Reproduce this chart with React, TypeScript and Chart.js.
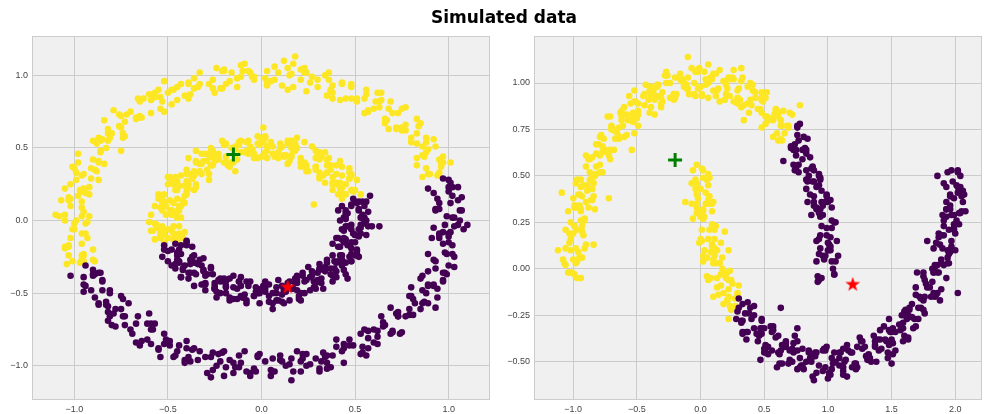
import React, { useEffect, useRef } from "react";
import { Chart, registerables } from "chart.js";
Chart.register(...registerables);

type P = [number, number];

// ---- Left panel: concentric circles ----
const circlesOuterYellow: P[] = [
  [0.88,0.36],[1.01,0.40],[0.89,0.49],[0.96,0.39],[0.83,0.38],[0.93,0.51],[0.83,0.43],[0.88,0.54],
  [0.75,0.62],[0.84,0.65],[0.86,0.51],[0.77,0.62],[0.85,0.67],[0.72,0.64],[0.68,0.63],[0.77,0.78],[0.70,0.74],
  [0.69,0.82],[0.57,0.75],[0.66,0.70],[0.60,0.77],[0.51,0.84],[0.64,0.88],[0.48,0.94],[0.55,0.84],[0.42,0.83],
  [0.48,0.92],[0.38,0.84],[0.43,0.95],[0.27,0.99],[0.36,1.02],[0.38,0.88],[0.26,0.95],[0.34,1.00],[0.21,0.97],
  [0.14,0.90],[0.23,1.05],[0.16,1.01],[0.14,1.05],[0.02,0.98],[0.11,0.93],[0.03,0.95],[-0.06,1.02],[0.07,1.06],
  [-0.11,1.07],[-0.04,0.97],[-0.17,0.96],[-0.11,0.99],[-0.21,0.91],[-0.16,1.02],[-0.33,1.02],[-0.24,1.05],[-0.22,0.91],
  [-0.34,0.92],[-0.26,0.97],[-0.39,0.94],[-0.45,0.83],[-0.36,0.98],[-0.43,0.94],[-0.45,0.92],[-0.57,0.85],[-0.48,0.80],
  [-0.54,0.77],[-0.63,0.84],[-0.50,0.88],[-0.66,0.84],[-0.59,0.74],[-0.72,0.73],[-0.65,0.72],[-0.75,0.64],[-0.70,0.75],
  [-0.84,0.69],[-0.75,0.72],[-0.73,0.58],[-0.82,0.55],[-0.74,0.60],[-0.87,0.57],[-0.90,0.42],[-0.81,0.57],[-0.88,0.53],
  [-0.86,0.47],[-0.98,0.40],[-0.89,0.35],[-0.91,0.29],[-1.00,0.36],[-0.87,0.40],[-0.99,0.33],[-0.92,0.23],[-1.05,0.22],
  [-0.92,0.18],[-1.02,0.10],[-0.97,0.21],[-1.07,0.14],[-0.98,0.17],[-0.96,0.03],[-1.00,-0.02],[-0.92,0.03],[-1.05,0.00],
  [-1.03,-0.17],[-0.94,-0.02],[-1.01,-0.06],[-0.93,-0.12],[-1.05,-0.19],[-0.96,-0.24],[-1.03,-0.24],[-0.90,-0.20],
  [-1.10,0.04],[-0.95,-0.28],[-0.90,-0.27],[-0.96,-0.27],[0.95,0.33],[0.18,1.13],[0.12,1.10],
  [0.97,0.40],[0.89,0.32],[0.83,0.53],[0.97,0.44],[0.83,0.60],[0.86,0.45],[0.75,0.64],[0.83,0.70],[0.66,0.67],[0.77,0.66],
  [0.63,0.82],[0.75,0.77],[0.55,0.74],[0.64,0.83],[0.63,0.78],[0.56,0.90],[0.37,0.89],[0.51,0.82],[0.43,0.94],[0.35,0.86],
  [0.24,1.02],[0.38,0.93],[0.21,1.04],[0.24,0.89],[0.09,1.02],[0.17,1.08],[-0.04,0.99],[0.05,0.96],[-0.09,1.08],[0.03,1.03],
  [-0.19,0.94],[-0.10,1.03],[-0.13,0.92],[-0.20,1.04],[-0.39,0.95],[-0.25,0.88],[-0.33,0.94],[-0.41,0.86],[-0.52,0.96],[-0.38,0.87],
  [-0.55,0.90],[-0.52,0.75],[-0.65,0.82],[-0.57,0.88],[-0.76,0.73],[-0.67,0.70],[-0.79,0.76],[-0.67,0.71],[-0.85,0.56],[-0.76,0.65],
  [-0.75,0.48],[-0.82,0.60],[-0.98,0.46],[-0.84,0.39],[-0.87,0.41],[-0.95,0.32],[-1.01,0.37],[-0.87,0.28],[-0.99,0.28],[-0.96,0.13],
  [-1.03,0.16],[-0.95,0.22],[-1.08,0.03],[-0.99,0.00],[-1.05,0.04],[-0.93,-0.01],[-1.05,-0.18],[-0.96,-0.09],[-0.89,-0.28],[-0.96,-0.16],
  [-1.04,-0.30],[0.86,0.30],
  [0.96,0.37],[0.90,0.32],[0.88,0.47],[0.95,0.42],[0.87,0.44],[0.92,0.56],[0.88,0.57],[0.80,0.54],[0.72,0.63],[0.80,0.57],
  [0.73,0.74],[0.67,0.69],[0.61,0.82],[0.68,0.77],[0.57,0.76],[0.62,0.88],[0.56,0.87],[0.48,0.84],[0.37,0.90],[0.45,0.84],
  [0.36,0.97],[0.30,0.92],[0.23,1.02],[0.30,0.97],[0.17,0.92],[0.22,1.04],[0.15,1.00],[0.07,0.97],[-0.05,0.99],[0.03,0.93],
  [-0.07,1.03],[-0.13,0.98],[-0.20,1.03],[-0.13,0.98],[-0.26,0.91],[-0.21,1.03],[-0.28,0.94],[-0.36,0.91],[-0.47,0.90],[-0.39,0.84],
  [-0.48,0.90],[-0.54,0.85],[-0.60,0.87],[-0.53,0.82],[-0.64,0.71],[-0.59,0.83],[-0.65,0.71],[-0.73,0.68],[-0.82,0.63],[-0.74,0.57],
  [-0.80,0.60],[-0.86,0.55],[-0.90,0.55],[-0.83,0.50],[-0.91,0.36],[-0.86,0.48],[-0.88,0.34],[-0.96,0.31],[-1.02,0.25],[-0.94,0.19],
  [-0.96,0.20],[-1.02,0.15],[-1.03,0.14],[-0.96,0.09],[-1.00,-0.06],[-0.95,0.06],[-0.94,-0.09],[-1.02,-0.12],[-1.03,-0.18],[-0.95,-0.24],
  [-0.95,-0.23],[-1.01,-0.28],[-0.97,-0.29],[0.94,0.31],
];
const circlesOuterPurple: P[] = [
  [0.97,0.29],[-0.94,-0.31],[-0.89,-0.37],[-1.02,-0.38],[-0.85,-0.41],[-0.95,-0.49],[-0.90,-0.38],
  [-0.94,-0.45],[-0.85,-0.42],[-0.83,-0.56],[-0.82,-0.59],[-0.74,-0.54],[-0.87,-0.57],[-0.80,-0.72],[-0.71,-0.57],[-0.78,-0.61],
  [-0.66,-0.66],[-0.78,-0.73],[-0.69,-0.78],[-0.61,-0.82],[-0.70,-0.75],[-0.57,-0.71],[-0.59,-0.75],[-0.52,-0.85],[-0.65,-0.86],
  [-0.44,-0.86],[-0.54,-0.94],[-0.49,-0.83],[-0.49,-0.86],[-0.40,-0.83],[-0.38,-0.97],[-0.34,-0.96],[-0.26,-0.91],[-0.39,-0.94],
  [-0.29,-1.05],[-0.20,-0.90],[-0.27,-0.94],[-0.12,-0.93],[-0.24,-1.00],[-0.15,-1.05],[-0.06,-1.05],[-0.15,-0.98],[-0.02,-0.94],
  [-0.02,-0.93],[0.05,-1.03],[-0.08,-1.04],[0.15,-0.99],[0.05,-1.07],[0.10,-0.96],[0.10,-0.93],[0.19,-0.90],[0.21,-1.04],
  [0.26,-0.99],[0.34,-0.94],[0.21,-0.97],[0.31,-1.02],[0.40,-0.87],[0.33,-0.91],[0.47,-0.86],[0.35,-0.93],[0.44,-0.98],
  [0.53,-0.92],[0.44,-0.85],[0.57,-0.81],[0.55,-0.75],[0.62,-0.85],[0.49,-0.86],[0.70,-0.76],[0.60,-0.84],[0.65,-0.73],
  [0.64,-0.66],[0.73,-0.63],[0.75,-0.77],[0.77,-0.66],[0.85,-0.61],[0.72,-0.64],[0.79,-0.65],[0.88,-0.50],[0.81,-0.54],
  [0.92,-0.45],[0.80,-0.52],[0.89,-0.57],[0.94,-0.47],[0.85,-0.40],[0.98,-0.36],[0.92,-0.27],[0.99,-0.37],[0.86,-0.38],
  [1.03,-0.25],[0.93,-0.33],[0.98,-0.22],[0.91,-0.12],[1.00,-0.09],[1.02,-0.23],[1.00,-0.11],[1.08,-0.06],[0.95,-0.09],
  [0.97,-0.08],[1.06,0.07],[0.99,0.03],[1.05,0.14],[0.93,0.07],[1.02,0.02],[1.01,0.12],[0.92,0.19],[1.05,0.23],
  [1.02,0.23],[0.89,0.22],[-0.60,-0.64],[1.10,-0.03],[0.16,-1.10],[-0.27,-1.08],
  [-0.90,-0.37],[-0.87,-0.36],[-0.95,-0.44],[-0.95,-0.39],[-0.81,-0.48],[-0.85,-0.48],[-0.82,-0.63],[-0.83,-0.58],[-0.75,-0.52],
  [-0.82,-0.69],[-0.73,-0.72],[-0.73,-0.66],[-0.61,-0.71],[-0.67,-0.84],[-0.58,-0.75],[-0.45,-0.90],[-0.52,-0.78],[-0.55,-0.89],
  [-0.41,-0.96],[-0.33,-0.90],[-0.41,-0.98],[-0.36,-0.88],[-0.22,-0.97],[-0.23,-0.92],[-0.20,-1.07],[-0.17,-0.96],[-0.09,-0.90],
  [-0.12,-1.01],[-0.03,-1.04],[-0.01,-0.92],[0.11,-0.97],[0.07,-1.04],[0.16,-0.95],[0.31,-1.04],[0.24,-0.92],[0.22,-0.95],
  [0.35,-1.02],[0.43,-0.90],[0.35,-0.98],[0.40,-0.82],[0.54,-0.91],[0.53,-0.78],[0.56,-0.93],[0.57,-0.76],[0.65,-0.70],
  [0.60,-0.75],[0.69,-0.78],[0.69,-0.60],[0.81,-0.65],[0.73,-0.66],[0.82,-0.57],[0.93,-0.60],[0.86,-0.48],[0.80,-0.46],
  [0.94,-0.53],[0.97,-0.36],[0.89,-0.44],[0.89,-0.23],[1.03,-0.32],[0.97,-0.16],[1.00,-0.31],[0.95,-0.10],[1.03,-0.04],
  [0.92,-0.05],[1.01,-0.08],[0.95,0.12],[1.07,0.07],[0.93,0.08],[1.02,0.17],[1.07,0.16],[1.00,0.28],[1.00,0.23],
  [-0.90,-0.34],[-0.91,-0.48],[-0.86,-0.36],[-0.81,-0.50],[-0.89,-0.53],[-0.87,-0.58],[-0.79,-0.64],[-0.75,-0.61],[-0.81,-0.66],
  [-0.74,-0.66],[-0.67,-0.71],[-0.64,-0.83],[-0.59,-0.71],[-0.51,-0.82],[-0.59,-0.85],[-0.55,-0.88],[-0.47,-0.94],[-0.40,-0.88],
  [-0.46,-0.93],[-0.37,-0.89],[-0.30,-0.94],[-0.26,-1.03],[-0.21,-0.91],[-0.11,-0.98],[-0.19,-1.01],[-0.14,-1.01],[-0.06,-1.07],
  [0.02,-0.97],[-0.04,-1.02],[0.06,-0.95],[0.13,-1.00],[0.17,-1.04],[0.22,-0.92],[0.32,-0.97],[0.24,-1.00],[0.29,-0.95],
  [0.37,-1.01],[0.44,-0.88],[0.38,-0.93],[0.47,-0.82],[0.54,-0.87],[0.57,-0.88],[0.62,-0.76],[0.70,-0.77],[0.62,-0.80],
  [0.66,-0.72],[0.74,-0.78],[0.79,-0.61],[0.73,-0.66],[0.79,-0.52],[0.86,-0.57],[0.87,-0.56],[0.92,-0.44],[0.97,-0.42],
  [0.89,-0.45],[0.89,-0.35],[0.97,-0.41],[0.99,-0.23],[0.93,-0.28],[0.95,-0.12],[1.02,-0.17],[1.00,-0.15],[1.05,-0.03],
  [1.06,0.00],[0.98,-0.03],[0.95,0.08],[1.03,0.02],[1.00,0.20],[0.94,0.15],[1.01,0.26],
];
const circlesInnerYellow: P[] = [
  [0.53,0.18],[0.48,0.21],[0.38,0.26],[0.47,0.29],[0.43,0.23],[0.51,0.28],[0.38,0.25],[0.38,0.21],[0.47,0.36],[0.40,0.32],
  [0.43,0.37],[0.31,0.30],[0.40,0.25],[0.38,0.30],[0.29,0.37],[0.42,0.41],[0.30,0.45],[0.37,0.35],[0.24,0.34],
  [0.35,0.42],[0.25,0.34],[0.31,0.47],[0.18,0.48],[0.27,0.51],[0.29,0.37],[0.21,0.43],[0.29,0.48],[0.16,0.45],
  [0.14,0.39],[0.23,0.54],[0.16,0.50],[0.18,0.53],[0.06,0.46],[0.15,0.41],[0.12,0.44],[0.03,0.51],[0.16,0.55],
  [0.02,0.57],[0.09,0.47],[-0.04,0.46],[0.06,0.51],[-0.04,0.43],[0.01,0.54],[-0.11,0.55],[-0.02,0.58],[0.00,0.44],
  [-0.09,0.47],[-0.01,0.52],[-0.14,0.49],[-0.16,0.40],[-0.07,0.55],[-0.14,0.51],[-0.12,0.52],[-0.24,0.45],[-0.15,0.40],
  [-0.18,0.40],[-0.27,0.47],[-0.20,0.53],[-0.27,0.50],[-0.20,0.40],[-0.33,0.39],[-0.23,0.42],[-0.33,0.34],[-0.28,0.45],
  [-0.39,0.43],[-0.30,0.46],[-0.28,0.32],[-0.35,0.33],[-0.27,0.38],[-0.40,0.35],[-0.41,0.24],[-0.32,0.39],[-0.37,0.29],
  [-0.36,0.34],[-0.48,0.27],[-0.39,0.22],[-0.40,0.20],[-0.50,0.25],[-0.36,0.31],[-0.47,0.28],[-0.40,0.18],[-0.53,0.17],
  [-0.42,0.14],[-0.51,0.10],[-0.46,0.21],[-0.55,0.18],[-0.52,0.13],[-0.44,0.07],[-0.49,0.07],[-0.41,0.12],[-0.54,0.09],
  [-0.53,-0.04],[-0.45,0.02],[-0.51,0.04],[-0.46,0.06],[-0.57,-0.02],[-0.48,-0.07],[-0.47,-0.09],[-0.56,-0.05],[-0.43,0.02],
  [-0.52,-0.10],[-0.44,-0.12],[-0.57,-0.13],[-0.42,-0.12],[-0.47,-0.04],[-0.54,-0.12],[-0.60,-0.01],[-0.58,-0.07],
  [-0.59,0.04],[0.28,0.11],[-0.14,0.34],[0.41,0.18],[0.50,0.21],[0.01,0.64],
  [0.45,0.25],[0.40,0.26],[0.48,0.32],[0.34,0.26],[0.43,0.23],[0.35,0.38],[0.47,0.33],[0.31,0.29],[0.40,0.38],[0.43,0.31],
  [0.36,0.43],[0.21,0.40],[0.35,0.33],[0.32,0.44],[0.24,0.36],[0.17,0.51],[0.31,0.42],[0.18,0.52],[0.21,0.37],[0.11,0.51],
  [0.19,0.57],[0.03,0.48],[0.12,0.45],[0.02,0.58],[0.14,0.53],[-0.04,0.45],[0.05,0.54],[0.07,0.44],[0.00,0.56],[-0.16,0.50],
  [-0.02,0.43],[-0.06,0.51],[-0.14,0.43],[-0.21,0.55],[-0.07,0.46],[-0.20,0.52],[-0.17,0.37],[-0.26,0.48],[-0.19,0.53],[-0.35,0.41],
  [-0.26,0.38],[-0.35,0.48],[-0.23,0.43],[-0.40,0.32],[-0.31,0.41],[-0.28,0.28],[-0.35,0.40],[-0.49,0.30],[-0.35,0.23],[-0.37,0.29],
  [-0.45,0.21],[-0.50,0.30],[-0.36,0.21],[-0.47,0.25],[-0.44,0.10],[-0.52,0.18],[-0.44,0.24],[-0.57,0.10],[-0.48,0.07],[-0.55,0.15],
  [-0.43,0.10],[-0.56,-0.03],[-0.47,0.06],[-0.41,-0.08],[-0.48,0.04],[-0.59,-0.07],[-0.45,-0.14],[-0.44,-0.09],[-0.54,-0.08],[-0.47,-0.13],
  [0.42,0.22],
  [0.49,0.20],[0.43,0.15],[0.42,0.26],[0.49,0.21],[0.43,0.19],[0.48,0.31],[0.47,0.29],[0.39,0.26],[0.33,0.31],[0.41,0.25],
  [0.37,0.38],[0.31,0.33],[0.29,0.43],[0.36,0.38],[0.29,0.35],[0.34,0.47],[0.31,0.43],[0.23,0.40],[0.16,0.44],[0.24,0.38],
  [0.19,0.50],[0.13,0.45],[0.10,0.53],[0.17,0.48],[0.09,0.43],[0.14,0.55],[0.10,0.50],[0.02,0.47],[-0.05,0.49],[0.03,0.43],
  [-0.02,0.53],[-0.08,0.48],[-0.12,0.54],[-0.05,0.49],[-0.13,0.42],[-0.08,0.54],[-0.11,0.47],[-0.19,0.44],[-0.26,0.44],[-0.18,0.38],
  [-0.23,0.46],[-0.29,0.41],[-0.32,0.46],[-0.25,0.41],[-0.32,0.32],[-0.27,0.44],[-0.29,0.35],[-0.37,0.32],[-0.43,0.31],[-0.35,0.25],
  [-0.39,0.32],[-0.45,0.27],[-0.46,0.30],[-0.39,0.25],[-0.45,0.15],[-0.40,0.27],[-0.41,0.17],[-0.49,0.14],[-0.53,0.12],[-0.45,0.06],
  [-0.47,0.12],[-0.53,0.07],[-0.53,0.09],[-0.46,0.04],[-0.50,-0.06],[-0.45,0.06],[-0.44,-0.04],[-0.52,-0.07],[-0.54,-0.10],[-0.46,-0.10],
  [-0.52,-0.15],[-0.50,-0.12],[0.45,0.18],
];
const circlesInnerPurple: P[] = [
  [0.43,0.10],[0.49,0.15],[-0.52,-0.20],[-0.43,-0.23],[-0.50,-0.21],[-0.44,-0.20],[-0.45,-0.24],[-0.37,-0.18],[-0.53,-0.25],
  [-0.46,-0.33],[-0.38,-0.27],[-0.44,-0.29],[-0.36,-0.24],[-0.48,-0.31],[-0.39,-0.36],[-0.35,-0.37],[-0.42,-0.33],[-0.31,-0.26],
  [-0.37,-0.28],[-0.30,-0.38],[-0.43,-0.39],[-0.26,-0.37],[-0.36,-0.45],[-0.31,-0.34],[-0.36,-0.36],[-0.27,-0.33],[-0.25,-0.47],
  [-0.25,-0.45],[-0.17,-0.40],[-0.30,-0.43],[-0.24,-0.53],[-0.15,-0.38],[-0.22,-0.42],[-0.12,-0.42],[-0.24,-0.49],[-0.15,-0.54],
  [-0.10,-0.53],[-0.19,-0.46],[-0.06,-0.42],[-0.11,-0.45],[-0.04,-0.52],[-0.17,-0.53],[0.02,-0.49],[-0.08,-0.57],[-0.03,-0.46],
  [-0.07,-0.45],[0.02,-0.42],[0.04,-0.56],[0.04,-0.52],[0.12,-0.47],[-0.01,-0.50],[0.06,-0.57],[0.15,-0.42],[0.08,-0.46],
  [0.18,-0.43],[0.06,-0.50],[0.15,-0.55],[0.20,-0.52],[0.11,-0.45],[0.24,-0.41],[0.19,-0.38],[0.26,-0.48],[0.13,-0.49],
  [0.31,-0.42],[0.21,-0.50],[0.26,-0.39],[0.22,-0.36],[0.31,-0.33],[0.33,-0.47],[0.32,-0.40],[0.40,-0.35],[0.27,-0.38],
  [0.32,-0.43],[0.41,-0.28],[0.34,-0.32],[0.43,-0.27],[0.31,-0.34],[0.40,-0.39],[0.44,-0.34],[0.35,-0.27],[0.48,-0.23],
  [0.41,-0.18],[0.48,-0.28],[0.35,-0.29],[0.51,-0.20],[0.42,-0.24],[0.46,-0.17],[0.40,-0.12],[0.49,-0.09],[0.51,-0.23],
  [0.48,-0.15],[0.56,-0.10],[0.43,-0.13],[0.45,-0.04],[0.55,-0.02],[0.48,-0.06],[0.55,0.01],[0.43,-0.06],[0.52,-0.11],
  [0.53,-0.05],[0.44,0.02],[0.57,0.06],[0.48,0.11],[0.54,0.04],[0.42,0.00],[0.55,0.10],[0.45,0.05],[0.50,0.13],
  [0.52,0.07],[0.63,-0.04],[0.06,-0.61],[0.58,0.17],
  [0.48,0.10],[-0.52,-0.17],[-0.40,-0.17],[-0.44,-0.28],[-0.48,-0.20],[-0.40,-0.14],[-0.50,-0.28],[-0.41,-0.31],[-0.45,-0.22],
  [-0.33,-0.27],[-0.43,-0.39],[-0.34,-0.30],[-0.25,-0.43],[-0.32,-0.31],[-0.39,-0.40],[-0.25,-0.47],[-0.22,-0.40],[-0.30,-0.48],
  [-0.29,-0.37],[-0.15,-0.46],[-0.20,-0.40],[-0.17,-0.55],[-0.19,-0.45],[-0.11,-0.39],[-0.19,-0.50],[-0.10,-0.53],[-0.12,-0.42],
  [0.00,-0.47],[-0.08,-0.55],[0.01,-0.46],[0.11,-0.56],[0.04,-0.44],[-0.02,-0.50],[0.12,-0.57],[0.16,-0.47],[0.08,-0.55],
  [0.09,-0.41],[0.23,-0.50],[0.18,-0.40],[0.21,-0.55],[0.19,-0.41],[0.27,-0.35],[0.19,-0.43],[0.28,-0.46],[0.25,-0.32],
  [0.37,-0.37],[0.28,-0.42],[0.37,-0.33],[0.46,-0.40],[0.39,-0.28],[0.31,-0.30],[0.45,-0.37],[0.47,-0.25],[0.39,-0.33],
  [0.38,-0.16],[0.52,-0.25],[0.45,-0.13],[0.48,-0.28],[0.44,-0.12],[0.52,-0.06],[0.41,-0.12],[0.50,-0.15],[0.45,0.01],
  [0.57,-0.04],[0.44,-0.07],[0.53,0.02],[0.59,-0.04],[0.52,0.08],[0.41,0.07],[0.55,0.00],[0.54,0.13],[0.46,0.05],[0.56,0.13],
  [-0.46,-0.16],[-0.43,-0.17],[-0.45,-0.27],[-0.40,-0.15],[-0.37,-0.25],[-0.45,-0.28],[-0.46,-0.30],[-0.38,-0.36],[-0.36,-0.29],
  [-0.42,-0.34],[-0.38,-0.30],[-0.31,-0.35],[-0.32,-0.44],[-0.27,-0.32],[-0.23,-0.41],[-0.31,-0.44],[-0.30,-0.44],[-0.22,-0.50],
  [-0.19,-0.42],[-0.25,-0.47],[-0.20,-0.42],[-0.13,-0.47],[-0.13,-0.54],[-0.08,-0.42],[-0.03,-0.49],[-0.11,-0.52],[-0.09,-0.51],
  [-0.01,-0.57],[0.02,-0.47],[-0.04,-0.52],[0.01,-0.45],[0.08,-0.50],[0.09,-0.55],[0.14,-0.43],[0.19,-0.48],[0.11,-0.51],
  [0.12,-0.48],[0.20,-0.54],[0.23,-0.42],[0.17,-0.47],[0.22,-0.38],[0.29,-0.43],[0.29,-0.47],[0.34,-0.35],[0.38,-0.38],
  [0.30,-0.41],[0.30,-0.36],[0.38,-0.42],[0.40,-0.29],[0.34,-0.34],[0.38,-0.24],[0.45,-0.29],[0.43,-0.31],[0.48,-0.19],
  [0.51,-0.21],[0.43,-0.24],[0.42,-0.18],[0.50,-0.24],[0.50,-0.10],[0.44,-0.15],[0.46,-0.04],[0.53,-0.09],[0.50,-0.10],
  [0.55,0.02],[0.56,0.00],[0.48,-0.03],[0.45,0.03],[0.53,-0.03],[0.51,0.12],[0.45,0.07],[0.52,0.13],
];
const circlesCentroidA: P[] = [[-0.15, 0.455]];
const circlesCentroidB: P[] = [[0.14, -0.46]];

// ---- Right panel: two moons ----
const moonsUpperYellow: P[] = [
  [-0.97,-0.05],[-1.06,0.02],[-0.93,0.06],[-1.00,0.05],[-1.02,0.16],[-0.95,0.06],[-1.08,0.05],[-1.01,-0.02],
  [-0.92,0.18],[-1.02,0.10],[-0.97,0.21],[-0.90,0.13],[-1.04,0.31],[-0.95,0.34],[-0.93,0.20],[-0.99,0.23],
  [-0.94,0.32],[-0.86,0.37],[-0.99,0.34],[-0.90,0.36],[-0.96,0.40],[-0.85,0.49],[-0.92,0.45],[-0.97,0.48],
  [-0.82,0.55],[-0.94,0.48],[-0.85,0.43],[-0.84,0.46],[-0.79,0.52],[-0.88,0.59],[-0.75,0.63],[-0.82,0.62],
  [-0.79,0.71],[-0.72,0.61],[-0.85,0.60],[-0.77,0.66],[-0.65,0.72],[-0.75,0.64],[-0.70,0.75],[-0.64,0.70],
  [-0.71,0.82],[-0.62,0.85],[-0.60,0.71],[-0.66,0.74],[-0.57,0.80],[-0.49,0.85],[-0.62,0.82],[-0.53,0.84],
  [-0.53,0.79],[-0.44,0.94],[-0.51,0.90],[-0.56,0.93],[-0.37,0.96],[-0.49,0.89],[-0.40,0.84],[-0.39,0.87],
  [-0.31,0.89],[-0.40,0.96],[-0.27,1.00],[-0.34,0.99],[-0.28,1.04],[-0.21,0.94],[-0.34,0.93],[-0.31,0.92],
  [-0.11,0.99],[-0.21,0.91],[-0.16,1.02],[-0.10,0.97],[-0.16,1.05],[-0.07,1.08],[-0.05,0.94],[-0.11,0.97],
  [0.00,0.98],[0.08,1.03],[-0.05,1.00],[0.04,1.02],[0.06,0.92],[0.15,1.07],[0.08,1.03],[0.03,1.06],
  [0.22,1.03],[0.10,0.96],[0.19,0.91],[0.20,0.94],[0.29,0.92],[0.20,0.99],[0.33,1.03],[0.26,1.02],
  [0.32,1.01],[0.39,0.91],[0.26,0.90],[0.29,0.89],[0.48,0.92],[0.38,0.84],[0.43,0.95],[0.49,0.90],
  [0.43,0.92],[0.52,0.95],[0.54,0.81],[0.48,0.84],[0.57,0.80],[0.65,0.85],[0.52,0.82],[0.61,0.84],
  [0.61,0.69],[0.70,0.84],[0.63,0.80],[0.58,0.83],[0.64,0.69],
  [0.78,0.88],[0.34,0.80],[0.48,0.76],[-0.54,0.64],[-1.09,0.41],[-0.72,0.38],[-0.84,0.13],[-0.10,1.14],
  [0.06,1.10],[-1.12,0.10],[-0.99,-0.03],[0.32,1.08],
  [-0.95,0.06],[-1.03,-0.02],[-1.06,0.11],[-0.91,0.11],[-1.00,0.19],[-0.97,0.04],[-1.02,0.25],[-0.94,0.31],[-1.06,0.21],
  [-0.94,0.26],[-1.00,0.38],[-0.88,0.33],[-0.98,0.33],[-0.89,0.42],[-0.83,0.32],[-0.87,0.52],[-0.98,0.46],[-0.84,0.39],
  [-0.79,0.56],[-0.87,0.48],[-0.90,0.61],[-0.71,0.59],[-0.80,0.67],[-0.77,0.52],[-0.78,0.71],[-0.70,0.77],[-0.82,0.67],
  [-0.67,0.70],[-0.73,0.82],[-0.61,0.77],[-0.67,0.74],[-0.58,0.83],[-0.52,0.73],[-0.52,0.90],[-0.63,0.84],[-0.49,0.77],
  [-0.41,0.91],[-0.49,0.83],[-0.52,0.96],[-0.30,0.90],[-0.39,0.98],[-0.36,0.83],[-0.34,0.98],[-0.26,1.04],[-0.38,0.94],
  [-0.21,0.94],[-0.27,1.06],[-0.15,1.01],[-0.19,0.94],[-0.10,1.03],[-0.04,0.93],[-0.02,1.06],[-0.13,1.00],[0.01,0.93],
  [0.09,1.02],[0.01,0.94],[-0.02,1.07],[0.21,0.97],[0.12,1.05],[0.15,0.90],[0.18,1.01],[0.26,1.07],[0.14,0.97],
  [0.31,0.91],[0.25,1.03],[0.37,0.98],[0.32,0.87],[0.41,0.96],[0.47,0.86],[0.48,0.95],[0.37,0.89],[0.51,0.82],
  [0.59,0.86],[0.51,0.78],[0.48,0.91],[0.69,0.77],[0.60,0.85],[0.63,0.70],[0.64,0.77],[0.72,0.83],[0.60,0.73],[0.69,0.76],
  [-0.98,0.03],[-1.04,-0.02],[-0.94,-0.05],[-1.03,0.14],[-0.96,0.09],[-1.07,0.03],[-0.98,0.11],[-0.93,0.23],[-1.03,0.19],
  [-0.91,0.26],[-0.99,0.23],[-0.98,0.34],[-0.99,0.33],[-0.91,0.27],[-0.93,0.39],[-0.89,0.45],[-0.95,0.40],[-0.85,0.37],
  [-0.90,0.55],[-0.83,0.50],[-0.94,0.44],[-0.82,0.51],[-0.77,0.63],[-0.87,0.59],[-0.71,0.64],[-0.79,0.61],[-0.78,0.72],
  [-0.76,0.70],[-0.68,0.64],[-0.70,0.76],[-0.62,0.80],[-0.68,0.75],[-0.58,0.72],[-0.60,0.87],[-0.53,0.82],[-0.64,0.76],
  [-0.50,0.81],[-0.45,0.93],[-0.55,0.89],[-0.36,0.91],[-0.44,0.88],[-0.43,0.99],[-0.39,0.93],[-0.31,0.87],[-0.33,0.99],
  [-0.24,1.00],[-0.30,0.95],[-0.20,0.92],[-0.20,1.03],[-0.13,0.98],[-0.24,0.92],[-0.09,0.94],[-0.04,1.06],[-0.14,1.02],
  [0.06,1.00],[-0.02,0.97],[-0.01,1.08],[0.04,0.99],[0.12,0.93],[0.10,1.05],[0.19,1.01],[0.13,0.96],[0.23,0.93],
  [0.23,1.02],[0.30,0.97],[0.19,0.91],[0.34,0.88],[0.39,1.00],[0.29,0.96],[0.48,0.91],[0.40,0.88],[0.41,0.99],
  [0.45,0.86],[0.53,0.80],[0.51,0.92],[0.59,0.85],[0.53,0.80],[0.63,0.77],[0.61,0.82],[0.68,0.77],[0.57,0.71],[0.66,0.73],
];
const moonsUpperPurple: P[] = [
  [0.76,0.76],[0.73,0.64],[0.74,0.67],[0.80,0.59],[0.71,0.66],[0.84,0.70],[0.77,0.69],
  [0.80,0.64],[0.87,0.54],[0.74,0.53],[0.77,0.52],[0.93,0.51],[0.83,0.43],[0.88,0.54],[0.94,0.49],
  [0.84,0.47],[0.93,0.50],[0.95,0.36],[0.89,0.39],[0.94,0.32],[1.02,0.37],[0.89,0.34],[0.98,0.36],
  [0.94,0.18],[1.03,0.33],[0.96,0.29],[0.91,0.32],[1.03,0.22],[0.91,0.15],[1.00,0.10],[1.01,0.13],
  [1.03,0.04],[0.94,0.11],[1.07,0.15],[1.00,0.14],[0.98,0.07],[1.05,-0.03],[0.92,-0.04],[0.95,-0.05],
  [0.65,0.58],[0.92,-0.07],[0.78,0.78],[1.06,0.25],
  [0.75,0.64],[0.81,0.71],[0.73,0.56],[0.82,0.65],[0.88,0.55],[0.86,0.60],[0.75,0.54],[0.89,0.47],
  [0.94,0.48],[0.86,0.40],[0.83,0.53],[1.00,0.36],[0.91,0.44],[0.94,0.29],[0.91,0.33],[0.99,0.39],[0.87,0.29],
  [0.99,0.18],[0.93,0.30],[1.05,0.25],[0.93,0.08],[1.02,0.17],[1.08,0.07],[1.02,0.10],[0.91,0.04],[1.05,-0.03],
  [0.71,0.65],[0.76,0.77],[0.83,0.64],[0.75,0.61],[0.76,0.72],[0.77,0.56],[0.85,0.50],[0.83,0.62],
  [0.89,0.53],[0.83,0.48],[0.93,0.45],[0.88,0.47],[0.95,0.42],[0.84,0.36],[0.94,0.28],[0.99,0.40],[0.89,0.36],
  [1.03,0.26],[0.95,0.23],[0.96,0.34],[0.93,0.16],[1.01,0.10],[0.99,0.22],[1.02,0.12],[0.96,0.07],[1.06,0.04],
  [0.97,0.05],[1.04,0.00],[0.93,-0.06],
];
const moonsLowerYellow: P[] = [
  [0.06,0.51],[-0.04,0.43],[0.01,0.54],[0.07,0.49],[-0.07,0.46],[0.02,0.49],[0.04,0.35],[-0.02,0.38],
  [0.02,0.31],[0.10,0.36],[-0.03,0.33],[0.06,0.35],[0.00,0.16],[0.09,0.31],[0.02,0.27],[-0.03,0.30],
  [0.11,0.21],[-0.01,0.14],[0.08,0.09],[0.09,0.12],[0.12,0.03],[0.03,0.10],[0.16,0.14],[0.09,0.13],
  [0.11,0.07],[0.18,-0.03],[0.05,-0.04],[0.08,-0.05],[0.24,-0.06],[0.14,-0.14],[0.19,-0.03],[0.25,-0.08],
  [0.16,-0.09],[0.22,-0.11],[0.27,-0.20],[0.21,-0.17],[0.24,-0.21],
  [-0.12,0.36],[0.19,0.20],[0.22,0.10],[0.22,-0.27],[0.10,-0.15],[-0.03,0.56],
  [0.05,0.48],[-0.03,0.40],[-0.06,0.53],[0.09,0.35],[0.00,0.43],[0.03,0.28],[-0.02,0.31],[0.06,0.37],[-0.06,0.27],
  [0.06,0.16],[0.00,0.28],[0.12,0.23],[0.02,0.07],[0.11,0.16],[0.17,0.06],[0.13,0.10],[0.02,0.04],[0.16,-0.03],
  [0.21,-0.02],[0.13,-0.10],[0.10,0.03],[0.29,-0.13],[0.20,-0.05],[0.23,-0.20],[0.22,-0.15],[0.30,-0.09],[0.18,-0.19],
  [0.27,-0.16],
  [0.02,0.53],[-0.04,0.48],[0.06,0.45],[-0.03,0.46],[0.04,0.41],[-0.07,0.35],[0.02,0.27],[0.07,0.39],[-0.03,0.35],
  [0.09,0.24],[0.01,0.21],[0.02,0.32],[0.01,0.15],[0.09,0.09],[0.07,0.21],[0.11,0.11],[0.05,0.06],[0.15,0.03],
  [0.10,0.05],[0.17,0.00],[0.06,-0.06],[0.18,-0.13],[0.23,-0.01],[0.13,-0.05],[0.29,-0.14],[0.21,-0.17],[0.22,-0.06],
  [0.24,-0.22],
];
const moonsLowerPurple: P[] = [
  [0.29,-0.23],[0.37,-0.18],[0.33,-0.19],[0.33,-0.35],[0.42,-0.20],[0.35,-0.24],[0.30,-0.21],
  [0.48,-0.27],[0.36,-0.34],[0.45,-0.39],[0.46,-0.36],[0.53,-0.42],[0.44,-0.35],[0.57,-0.31],[0.50,-0.32],
  [0.56,-0.34],[0.63,-0.44],[0.50,-0.45],[0.53,-0.46],[0.72,-0.43],[0.62,-0.51],[0.67,-0.40],[0.73,-0.45],
  [0.67,-0.42],[0.76,-0.39],[0.78,-0.53],[0.72,-0.50],[0.83,-0.50],[0.91,-0.45],[0.78,-0.48],[0.87,-0.46],
  [0.88,-0.58],[0.97,-0.43],[0.90,-0.47],[0.85,-0.44],[1.05,-0.45],[0.93,-0.52],[1.02,-0.57],[1.03,-0.54],
  [1.12,-0.55],[1.03,-0.48],[1.16,-0.44],[1.09,-0.45],[1.15,-0.41],[1.22,-0.51],[1.09,-0.52],[1.12,-0.53],
  [1.32,-0.46],[1.22,-0.54],[1.27,-0.43],[1.33,-0.48],[1.27,-0.39],[1.36,-0.36],[1.38,-0.50],[1.32,-0.47],
  [1.42,-0.43],[1.50,-0.38],[1.37,-0.41],[1.46,-0.39],[1.47,-0.45],[1.56,-0.30],[1.49,-0.34],[1.44,-0.31],
  [1.62,-0.27],[1.50,-0.34],[1.59,-0.39],[1.60,-0.36],[1.67,-0.32],[1.58,-0.25],[1.71,-0.21],[1.64,-0.22],
  [1.69,-0.14],[1.76,-0.24],[1.63,-0.25],[1.66,-0.26],[1.83,-0.13],[1.73,-0.21],[1.78,-0.10],[1.84,-0.15],
  [1.75,-0.02],[1.84,0.01],[1.86,-0.13],[1.80,-0.10],[1.87,-0.02],[1.95,0.03],[1.82,0.00],[1.91,0.02],
  [1.89,0.05],[1.97,0.15],[1.90,0.11],[1.85,0.14],[1.99,0.21],[1.87,0.17],[1.96,0.09],[1.97,0.12],
  [2.00,0.19],[1.91,0.26],[2.04,0.30],[1.97,0.29],[1.96,0.40],[2.03,0.30],[1.90,0.29],[1.93,0.28],
  [2.06,0.42],[1.96,0.34],[2.01,0.45],[2.07,0.40],[1.94,0.52],[2.02,0.53],[2.04,0.44],[1.98,0.47],
  [1.86,0.50],[2.02,-0.13],[1.50,-0.51],[0.47,-0.49],[0.89,-0.60],[0.63,-0.21],[0.76,-0.32],[1.78,0.15],
  [1.70,-0.02],[0.28,-0.27],[1.00,-0.59],[0.60,-0.53],
  [0.33,-0.28],[0.39,-0.21],[0.33,-0.34],[0.42,-0.25],[0.48,-0.35],[0.48,-0.28],[0.37,-0.34],[0.51,-0.41],
  [0.59,-0.37],[0.51,-0.45],[0.48,-0.32],[0.70,-0.44],[0.61,-0.36],[0.64,-0.51],[0.66,-0.42],[0.74,-0.36],[0.62,-0.46],
  [0.79,-0.52],[0.73,-0.40],[0.85,-0.45],[0.81,-0.54],[0.90,-0.45],[0.96,-0.55],[0.98,-0.44],[0.87,-0.50],[1.01,-0.57],
  [1.09,-0.48],[1.01,-0.56],[0.98,-0.43],[1.21,-0.51],[1.12,-0.43],[1.15,-0.58],[1.18,-0.45],[1.26,-0.39],[1.14,-0.49],
  [1.31,-0.49],[1.25,-0.37],[1.37,-0.42],[1.32,-0.47],[1.41,-0.38],[1.47,-0.48],[1.48,-0.33],[1.37,-0.39],[1.51,-0.46],
  [1.59,-0.32],[1.51,-0.40],[1.48,-0.27],[1.69,-0.31],[1.60,-0.23],[1.63,-0.38],[1.64,-0.21],[1.72,-0.15],[1.60,-0.25],
  [1.75,-0.22],[1.69,-0.10],[1.81,-0.15],[1.73,-0.16],[1.82,-0.07],[1.88,-0.17],[1.86,0.02],[1.75,-0.04],[1.89,-0.11],
  [1.94,0.06],[1.86,-0.02],[1.83,0.11],[2.00,0.10],[1.91,0.18],[1.94,0.03],[1.91,0.23],[1.99,0.29],[1.87,0.19],
  [1.99,0.24],[1.93,0.36],[2.05,0.31],[1.93,0.32],[2.02,0.41],[2.08,0.31],[2.02,0.52],[1.91,0.46],[2.05,0.39],
  [0.32,-0.28],[0.30,-0.16],[0.38,-0.24],[0.32,-0.29],[0.42,-0.32],[0.40,-0.27],[0.47,-0.32],[0.36,-0.38],
  [0.50,-0.43],[0.55,-0.31],[0.45,-0.35],[0.64,-0.41],[0.56,-0.44],[0.57,-0.33],[0.61,-0.45],[0.69,-0.51],[0.67,-0.39],
  [0.76,-0.44],[0.70,-0.49],[0.80,-0.52],[0.80,-0.43],[0.87,-0.48],[0.76,-0.54],[0.91,-0.56],[0.96,-0.44],[0.86,-0.48],
  [1.06,-0.50],[0.98,-0.53],[0.99,-0.42],[1.04,-0.51],[1.12,-0.57],[1.10,-0.45],[1.19,-0.45],[1.13,-0.50],[1.23,-0.53],
  [1.23,-0.42],[1.30,-0.47],[1.19,-0.53],[1.34,-0.50],[1.39,-0.38],[1.29,-0.42],[1.48,-0.41],[1.40,-0.44],[1.41,-0.33],
  [1.45,-0.38],[1.53,-0.44],[1.51,-0.32],[1.59,-0.29],[1.53,-0.34],[1.63,-0.37],[1.61,-0.22],[1.68,-0.27],[1.57,-0.33],
  [1.71,-0.27],[1.76,-0.15],[1.66,-0.19],[1.83,-0.14],[1.75,-0.17],[1.76,-0.06],[1.77,-0.08],[1.85,-0.14],[1.83,-0.02],
  [1.89,0.03],[1.83,-0.02],[1.93,-0.05],[1.88,0.13],[1.95,0.08],[1.84,0.02],[1.94,0.10],[1.99,0.22],[1.89,0.18],
  [2.03,0.24],[1.95,0.21],[1.96,0.32],[1.93,0.32],[2.01,0.26],[1.99,0.38],[2.02,0.44],[1.96,0.39],[2.06,0.36],
  [1.97,0.53],[2.04,0.50],[1.93,0.44],
];
const moonsCentroidA: P[] = [[-0.20, 0.585]];
const moonsCentroidB: P[] = [[1.195, -0.085]];

// ---- Axis ranges and tick labels ----
const circlesXRange: P = [-1.226, 1.221];
const circlesYRange: P = [-1.236, 1.271];
const moonsXRange: P = [-1.308, 2.21];
const moonsYRange: P = [-0.706, 1.253];
const circlesXTicks = [-1.0, -0.5, 0.0, 0.5, 1.0];
const circlesYTicks = [-1.0, -0.5, 0.0, 0.5, 1.0];
const moonsXTicks = [-1.0, -0.5, 0.0, 0.5, 1.0, 1.5, 2.0];
const moonsYTicks = [-0.5, -0.25, 0.0, 0.25, 0.5, 0.75, 1.0];

const TITLE = "Simulated data";
const YELLOW = "#fde725";
const PURPLE = "#440154";

function fmt(v: number, d: number) {
  const s = Math.abs(v).toFixed(d);
  return (v < -1e-9 ? "\u2212" : "") + s;
}

function makeStar(): HTMLCanvasElement {
  const c = document.createElement("canvas");
  c.width = 18;
  c.height = 18;
  const ctx = c.getContext("2d")!;
  const R = 7.8, r = R * 0.382, cx = 9, cy = 9;
  ctx.beginPath();
  for (let i = 0; i < 10; i++) {
    const rad = i % 2 === 0 ? R : r;
    const a = -Math.PI / 2 + (i * Math.PI) / 5;
    const x = cx + rad * Math.cos(a);
    const y = cy + rad * Math.sin(a);
    if (i === 0) ctx.moveTo(x, y);
    else ctx.lineTo(x, y);
  }
  ctx.closePath();
  ctx.fillStyle = "#ff0000";
  ctx.fill();
  return c;
}

const framePlugin = {
  id: "frame",
  beforeDraw(chart: any) {
    const { ctx, chartArea: a } = chart;
    ctx.save();
    ctx.fillStyle = "#f0f0f0";
    ctx.fillRect(a.left, a.top, a.right - a.left, a.bottom - a.top);
    ctx.restore();
  },
  afterDraw(chart: any) {
    const { ctx, chartArea: a } = chart;
    ctx.save();
    ctx.strokeStyle = "#cccccc";
    ctx.lineWidth = 1;
    ctx.strokeRect(a.left + 0.5, a.top + 0.5, a.right - a.left - 1, a.bottom - a.top - 1);
    ctx.restore();
  },
};

const toXY = (arr: P[]) => arr.map(([x, y]) => ({ x, y }));

function buildConfig(
  yellow: P[],
  purple: P[],
  cA: P[],
  cB: P[],
  xr: P,
  yr: P,
  xt: number[],
  yt: number[],
  yDec: number,
  yWidth: number,
  padRight: number,
  star: HTMLCanvasElement
): any {
  const tickFont = { family: "'Liberation Sans', Arial, sans-serif", size: 9 };
  return {
    type: "scatter",
    data: {
      datasets: [
        { data: toXY(yellow), backgroundColor: YELLOW, borderWidth: 0, pointRadius: 3.3, order: 3 },
        { data: toXY(purple), backgroundColor: PURPLE, borderWidth: 0, pointRadius: 3.3, order: 2 },
        { data: toXY(cA), pointStyle: "cross", pointRadius: 7, borderColor: "#008000", borderWidth: 3, order: 1 },
        { data: toXY(cB), pointStyle: star, pointRadius: 8, order: 0 },
      ],
    },
    options: {
      animation: false,
      responsive: false,
      devicePixelRatio: 1,
      events: [],
      layout: { padding: { top: 36, right: padRight, left: 0, bottom: 0 } },
      plugins: { legend: { display: false }, tooltip: { enabled: false }, title: { display: false } },
      scales: {
        x: {
          type: "linear",
          min: xr[0],
          max: xr[1],
          afterBuildTicks: (s: any) => {
            s.ticks = xt.map((v) => ({ value: v }));
          },
          afterFit: (s: any) => {
            s.height = 14;
          },
          grid: { color: "#cbcbcb", lineWidth: 1, drawTicks: false },
          border: { display: false },
          ticks: {
            padding: 4,
            font: tickFont,
            color: "#444444",
            maxRotation: 0,
            autoSkip: false,
            callback: (v: any) => fmt(Number(v), 1),
          },
        },
        y: {
          type: "linear",
          min: yr[0],
          max: yr[1],
          afterBuildTicks: (s: any) => {
            s.ticks = yt.map((v) => ({ value: v }));
          },
          afterFit: (s: any) => {
            s.width = yWidth;
          },
          grid: { color: "#cbcbcb", lineWidth: 1, drawTicks: false },
          border: { display: false },
          ticks: {
            padding: 4,
            font: tickFont,
            color: "#444444",
            autoSkip: false,
            callback: (v: any) => fmt(Number(v), yDec),
          },
        },
      },
    },
    plugins: [framePlugin],
  };
}

export default function App() {
  const leftRef = useRef<HTMLCanvasElement>(null);
  const rightRef = useRef<HTMLCanvasElement>(null);

  useEffect(() => {
    const star = makeStar();
    const c1 = new Chart(
      leftRef.current!,
      buildConfig(
        circlesOuterYellow.concat(circlesInnerYellow),
        circlesOuterPurple.concat(circlesInnerPurple),
        circlesCentroidA,
        circlesCentroidB,
        circlesXRange,
        circlesYRange,
        circlesXTicks,
        circlesYTicks,
        1,
        32,
        0,
        star
      )
    );
    const c2 = new Chart(
      rightRef.current!,
      buildConfig(
        moonsUpperYellow.concat(moonsLowerYellow),
        moonsUpperPurple.concat(moonsLowerPurple),
        moonsCentroidA,
        moonsCentroidB,
        moonsXRange,
        moonsYRange,
        moonsXTicks,
        moonsYTicks,
        2,
        34,
        1,
        star
      )
    );
    return () => {
      c1.destroy();
      c2.destroy();
    };
  }, []);

  return (
    <div style={{ position: "fixed", left: 0, top: 0, width: 992, height: 414, background: "#ffffff", overflow: "hidden" }}>
      <canvas ref={leftRef} width={500} height={414} style={{ position: "absolute", left: 0, top: 0, width: 500, height: 414 }} />
      <canvas ref={rightRef} width={492} height={414} style={{ position: "absolute", left: 500, top: 0, width: 492, height: 414 }} />
      <div
        style={{
          position: "absolute",
          left: 504,
          top: 9,
          transform: "translateX(-50%)",
          font: "bold 17px 'DejaVu Sans', sans-serif",
          lineHeight: "17px",
          whiteSpace: "nowrap",
          color: "#000000",
        }}
      >
        {TITLE}
      </div>
    </div>
  );
}
